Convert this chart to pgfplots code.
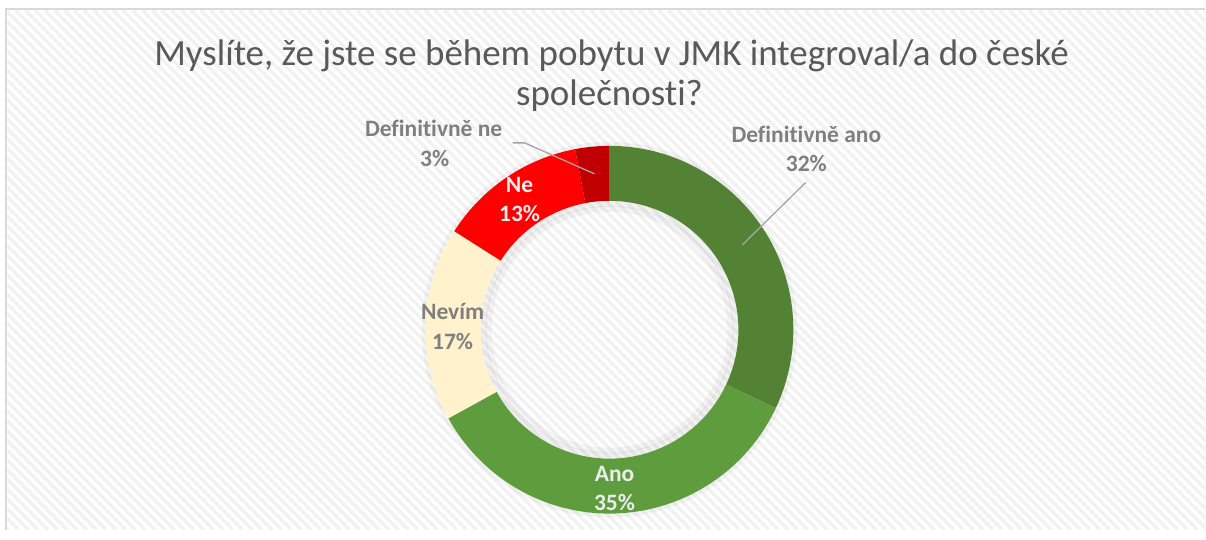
\documentclass[border=0pt]{standalone}
\usepackage{fontspec}
\setmainfont{Carlito}[RawFeature={-liga;-dlig;-clig}]
\usepackage{pgfplots}
\usepackage{pgfplotstable}
\pgfplotsset{compat=1.18}

\definecolor{cDefAno}{HTML}{548235}
\definecolor{cAno}{HTML}{5E9C3E}
\definecolor{cNevim}{HTML}{FFF2CC}
\definecolor{cNe}{HTML}{FF0000}
\definecolor{cDefNe}{HTML}{C00000}
\definecolor{titlegray}{HTML}{595959}
\definecolor{labgray}{HTML}{7F7F7F}
\definecolor{lightlab}{HTML}{EDEDED}
\definecolor{leader}{HTML}{A6A6A6}
\definecolor{frame}{HTML}{D9D9D9}

% share of each answer, clockwise from the top
\pgfplotstableread{
value
32
35
17
13
3
}\donutdata

% start/end angle of every segment
\def\cum{90}
\foreach \i in {0,...,4}{%
  \pgfplotstablegetelem{\i}{value}\of\donutdata
  \pgfmathsetmacro\endang{\cum-3.6*\pgfplotsretval}%
  \expandafter\xdef\csname sa\i\endcsname{\cum}%
  \expandafter\xdef\csname ea\i\endcsname{\endang}%
  \xdef\cum{\endang}%
}

% annular sector around (610,200), outer 184, inner 129
\newcommand\seg[2]{%
  \fill[#2] (axis cs:610,200) ++(\csname sa#1\endcsname:184pt)
    arc[start angle=\csname sa#1\endcsname, end angle=\csname ea#1\endcsname, radius=184pt]
    -- ++(\csname ea#1\endcsname:-55pt)
    arc[start angle=\csname ea#1\endcsname, end angle=\csname sa#1\endcsname, radius=129pt]
    -- cycle;}

\begin{document}
\begin{tikzpicture}[x=1pt,y=1pt]
  % background
  \fill[white] (0,0) rectangle (1206,530);
  \begin{scope}
    \clip (7.5,0) rectangle (1206,519.5);
    \foreach \x in {-540,-530.25,...,1210}{
      \draw[black!5, line width=3.4pt] (\x,519.5) -- (\x+519.5,0);
    }
  \end{scope}
  \draw[frame, line width=2pt] (6.5,0) -- (6.5,520.5) -- (1206,520.5);

  \begin{axis}[
      hide axis,
      x=1pt, y=1pt,
      xmin=0, xmax=1206,
      ymin=0, ymax=530,
      clip=false,
    ]
    % soft shadow round the ring
    \draw[black, opacity=0.05, line width=6pt] (axis cs:610,200) circle[radius=126pt];
    \draw[black, opacity=0.04, line width=6pt] (axis cs:610,200) circle[radius=121pt];
    \draw[black, opacity=0.04, line width=4pt] (axis cs:610,200) circle[radius=186pt];

    \seg{0}{cDefAno}
    \seg{1}{cAno}
    \seg{2}{cNevim}
    \seg{3}{cNe}
    \seg{4}{cDefNe}

    % leader lines
    \draw[leader, line width=1.3pt] (axis cs:806.5,347.5) -- (axis cs:743,285);
    \draw[leader, line width=1.3pt] (axis cs:513,387) -- (axis cs:525,387) -- (axis cs:595,356);

    % title
    \node[anchor=base, text=titlegray, font=\fontsize{37}{40}\selectfont] at (axis cs:612,464)
      {Myslíte, že jste se během pobytu v JMK integroval/a do české};
    \node[anchor=base, text=titlegray, font=\fontsize{37}{40}\selectfont] at (axis cs:610,424)
      {společnosti?};

    % data labels
    \tikzset{lab/.style={anchor=base, font=\fontsize{23.5}{28}\selectfont\bfseries}}
    \node[lab, text=labgray] at (axis cs:807,387) {Definitivně ano};
    \node[lab, text=labgray] at (axis cs:807,358) {32\%};
    \node[lab, text=labgray] at (axis cs:434,393) {Definitivně ne};
    \node[lab, text=labgray] at (axis cs:435,363) {3\%};
    \node[lab, text=lightlab] at (axis cs:520,337) {Ne};
    \node[lab, text=lightlab] at (axis cs:520,308) {13\%};
    \node[lab, text=labgray] at (axis cs:453,210) {Nevím};
    \node[lab, text=labgray] at (axis cs:453,180) {17\%};
    \node[lab, text=lightlab] at (axis cs:615,48) {Ano};
    \node[lab, text=lightlab] at (axis cs:615,19) {35\%};
  \end{axis}
\end{tikzpicture}
\end{document}
